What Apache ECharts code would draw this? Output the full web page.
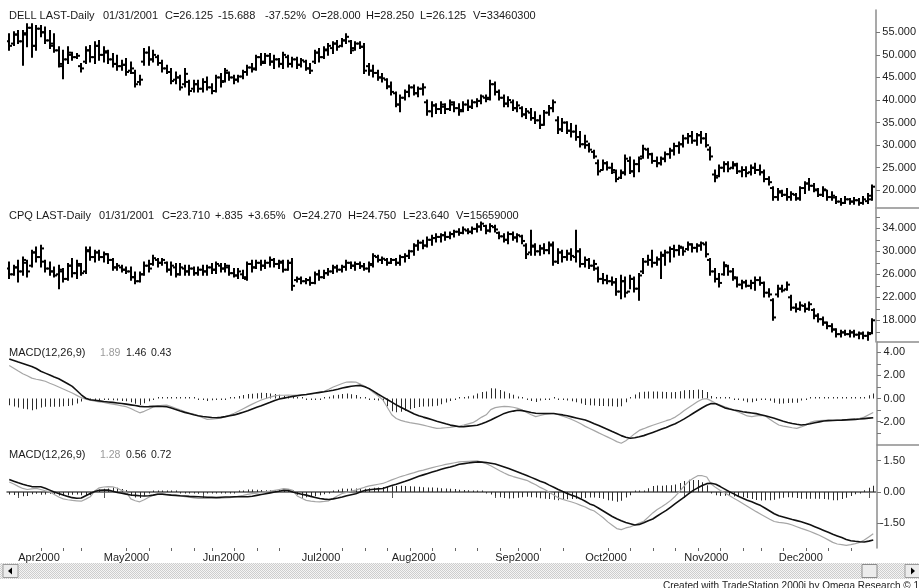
<!DOCTYPE html>
<html>
<head>
<meta charset="utf-8">
<script src="https://cdn.jsdelivr.net/npm/echarts@6/dist/echarts.min.js"></script>
<style>
html,body{margin:0;padding:0;background:#fff;}
#chart{width:919px;height:588px;}
</style>
</head>
<body>
<div id="chart"></div>
<script>
// ---- trading calendar ----
const firstDay = '2000-03-30';
const lastDay = '2001-01-03';
const holidays = ['2000-04-21','2000-05-29','2000-07-04','2000-09-04','2000-11-23','2000-12-25','2001-01-01'];
const monthLabels = ['Apr2000','May2000','Jun2000','Jul2000','Aug2000','Sep2000','Oct2000','Nov2000','Dec2000'];

// ---- DELL daily bars [open, high, low, close] ----
const dellOHLC = [
[53.0,54.7,51.0,52.0],[52.5,55.1,52.1,54.5],[54.5,55.4,52.5,53.0],[53.0,55.4,47.7,54.8],[54.5,56.9,51.8,56.0],
[56.0,56.9,49.5,52.0],[52.0,56.5,51.0,55.8],[55.8,56.5,54.0,55.0],[55.0,56.2,52.5,53.2],[53.2,55.4,51.4,52.0],
[52.5,54.7,50.6,51.0],[51.0,51.8,47.3,48.0],[47.5,51.0,44.7,49.0],[49.0,51.8,48.1,50.5],[50.0,50.6,48.8,49.5],
[49.5,50.3,49.2,49.8],[47.5,48.1,46.2,47.0],[48.5,51.8,48.1,51.0],[51.0,52.1,48.4,49.5],[49.5,52.9,48.1,52.0],
[52.0,53.2,48.8,50.0],[50.0,51.8,48.4,50.8],[50.5,51.0,48.1,49.0],[49.0,50.3,47.3,48.0],[48.0,49.9,46.6,47.5],
[47.5,48.8,46.6,47.8],[47.8,49.2,45.5,46.2],[46.5,48.4,45.9,47.0],[46.0,46.6,42.9,43.5],[44.0,45.5,43.3,44.5],
[48.5,51.4,47.7,50.5],[50.5,51.8,47.7,49.0],[49.0,51.0,48.4,50.0],[49.5,49.9,47.7,48.2],[48.2,48.8,46.2,47.0],
[47.0,47.7,45.9,46.2],[46.2,47.0,43.6,44.2],[44.5,46.2,43.6,45.0],[45.0,45.5,42.2,42.8],[43.5,47.0,42.9,45.8],
[44.0,44.4,41.1,42.0],[42.5,44.4,41.8,43.5],[43.5,44.4,41.8,42.5],[42.5,44.7,41.8,44.0],[44.0,45.1,42.2,42.8],
[42.8,43.6,41.4,42.0],[42.0,45.5,41.8,45.0],[45.0,45.9,42.9,44.0],[44.2,47.0,44.0,46.5],[46.0,46.2,44.4,45.0],
[45.0,45.5,43.6,44.5],[44.5,45.5,44.0,45.2],[45.2,46.6,44.7,46.2],[46.2,47.7,45.5,47.2],[47.2,48.1,46.2,46.8],
[47.0,49.9,46.6,49.5],[49.5,50.3,47.7,48.2],[48.5,50.3,48.1,49.8],[49.8,50.3,47.7,48.5],[48.5,49.9,47.0,49.0],
[49.0,49.2,47.3,48.0],[48.0,50.6,47.0,50.0],[49.5,49.9,47.3,48.0],[48.0,49.5,47.3,49.0],[49.0,49.5,47.0,47.8],
[47.8,49.2,47.3,48.8],[48.5,48.8,46.6,47.0],[47.0,48.1,45.9,46.5],[48.5,51.0,48.1,50.5],[50.5,51.4,48.4,49.5],
[49.5,51.8,49.2,51.2],[51.0,52.5,49.9,52.0],[51.5,52.9,50.3,52.5],[52.5,53.2,51.0,51.8],[52.0,53.6,51.8,53.2],
[53.2,54.7,52.5,54.0],[53.0,53.2,50.3,51.0],[51.5,52.9,51.0,52.5],[52.5,52.9,51.4,51.8],[51.8,52.5,45.9,46.5],
[47.5,48.1,45.5,46.5],[46.5,47.7,45.1,46.0],[46.0,46.6,44.4,45.0],[45.0,45.9,44.0,44.8],[44.5,44.7,42.5,43.0],
[43.0,44.0,41.1,41.8],[41.5,41.8,38.5,39.0],[39.0,41.1,37.4,40.5],[40.5,42.2,40.0,41.8],[41.8,43.3,40.7,42.8],
[42.8,43.3,41.1,41.5],[41.5,42.9,40.7,42.5],[42.5,43.6,41.1,42.8],[39.5,40.0,36.6,37.5],[37.5,39.6,36.3,38.8],
[38.8,39.2,37.0,38.0],[38.0,39.6,37.0,39.0],[38.5,39.2,37.0,38.0],[38.0,40.0,37.7,39.5],[39.0,39.6,37.4,38.2],
[38.2,39.2,36.6,37.5],[37.8,39.6,37.4,39.0],[39.0,40.0,37.7,38.5],[38.5,40.0,38.1,39.5],[39.5,40.3,38.5,39.8],
[39.8,41.1,39.2,40.8],[40.5,41.1,39.6,40.2],[40.5,44.4,40.0,43.5],[43.5,44.0,41.1,41.8],[41.8,42.2,40.0,40.5],
[40.5,41.1,38.5,39.2],[39.2,40.7,38.5,40.0],[39.5,40.0,37.7,38.2],[38.2,39.6,37.4,38.8],[38.2,38.5,36.3,36.8],
[36.8,38.1,35.9,37.5],[37.2,38.1,35.5,36.0],[36.0,37.4,34.8,35.5],[35.5,36.6,33.7,34.5],[34.5,37.7,34.4,37.2],
[37.2,38.8,36.6,38.2],[38.2,40.0,37.4,39.5],[35.5,36.3,32.6,33.5],[33.5,35.9,33.0,35.0],[35.0,35.2,32.6,33.2],
[33.2,34.8,31.8,33.0],[33.0,34.4,31.1,31.8],[31.8,33.0,29.6,30.2],[30.2,32.2,29.3,30.8],[30.0,30.4,28.5,29.0],
[28.5,28.9,27.1,27.5],[26.0,26.7,23.4,24.2],[24.5,26.7,24.5,26.0],[26.0,26.3,24.5,25.0],[25.0,26.0,23.7,24.5],
[24.0,24.5,21.9,22.5],[22.8,24.5,22.6,23.8],[24.0,27.8,23.4,27.0],[26.5,27.4,23.7,24.2],[24.2,26.7,23.0,25.8],
[25.8,27.4,24.1,27.0],[27.5,30.0,27.1,29.2],[29.0,29.3,27.1,28.0],[28.0,28.2,26.0,26.5],[26.5,27.4,25.2,26.0],
[26.0,27.4,25.6,27.0],[27.0,28.5,26.3,28.0],[28.0,29.3,27.1,28.8],[28.8,30.4,27.8,29.8],[29.8,30.7,28.2,30.2],
[30.2,32.2,29.6,31.5],[31.5,32.6,30.4,32.0],[32.0,33.0,30.4,31.0],[31.0,32.6,30.0,32.2],[32.2,33.0,30.4,31.5],
[31.5,32.6,29.6,30.0],[29.0,29.6,26.7,27.5],[23.5,24.5,21.9,22.8],[23.2,25.6,23.0,25.0],[25.0,26.3,24.1,25.8],
[25.8,26.3,24.1,24.8],[25.0,26.3,24.8,25.8],[25.5,26.0,23.7,24.2],[24.2,25.2,23.0,24.5],[24.5,25.2,23.0,23.8],
[24.0,25.6,23.4,25.0],[25.0,26.0,23.7,24.5],[24.5,25.6,23.4,24.0],[24.0,24.5,21.9,22.5],[22.5,23.0,21.2,21.8],
[20.5,20.8,17.8,18.5],[18.5,20.4,17.8,19.8],[19.5,20.0,18.6,19.0],[19.0,20.4,17.8,18.5],[18.5,19.7,17.8,19.2],
[19.0,19.3,17.8,18.2],[18.2,20.8,17.8,20.5],[20.5,21.9,19.3,21.5],[21.5,22.6,20.0,21.0],[21.0,21.5,19.7,20.2],
[20.0,20.4,18.6,19.0],[19.0,20.8,18.6,20.2],[20.0,20.0,17.8,18.5],[18.5,19.7,17.8,18.8],[18.4,18.6,17.1,17.5],
[17.5,18.2,16.7,17.2],[17.2,18.6,17.1,18.0],[18.0,18.2,16.9,17.5],[17.5,18.4,16.9,17.8],[17.8,18.2,16.7,17.2],
[17.2,18.6,16.9,18.0],[17.6,19.3,17.1,18.8],[18.0,21.2,17.8,20.8]
];

// ---- CPQ daily bars [open, high, low, close] ----
const cpqOHLC = [
[27.0,28.15,25.25,26.0],[26.0,27.57,25.83,27.2],[27.2,28.44,24.67,26.5],[26.5,29.02,25.83,28.5],[28.0,28.44,25.54,26.5],
[27.5,30.17,27.28,29.8],[29.8,30.75,28.15,29.0],[29.0,31.04,27.28,30.5],[28.2,28.44,26.41,27.0],[27.0,28.15,25.83,26.5],
[26.5,27.28,25.54,25.8],[26.0,27.57,23.51,26.8],[26.5,26.99,24.67,25.2],[25.2,27.86,24.96,27.5],[27.5,28.73,25.54,26.2],
[26.2,28.44,25.25,27.8],[27.5,27.86,25.83,26.2],[26.5,30.75,26.12,30.2],[30.0,30.75,28.44,29.0],[29.0,30.17,28.15,29.8],
[29.8,30.17,28.44,29.0],[29.0,29.88,28.15,29.5],[29.5,29.59,27.86,28.5],[28.5,28.73,26.70,27.2],[27.2,27.86,26.70,27.5],
[27.2,27.57,26.41,26.8],[26.8,27.28,26.12,26.5],[26.5,27.28,24.96,25.5],[25.5,26.41,24.38,24.8],[24.8,26.41,24.67,26.0],
[26.0,28.15,25.83,27.5],[27.5,28.44,26.41,27.0],[27.8,29.30,27.57,28.8],[28.5,28.73,27.28,28.0],[28.0,28.73,27.57,28.5],
[28.0,28.15,26.41,26.8],[26.8,28.15,25.83,27.5],[27.2,27.86,25.54,26.0],[26.0,27.86,25.83,27.2],[27.0,27.57,25.83,26.5],
[26.5,27.57,25.83,27.0],[27.0,27.28,25.83,26.2],[26.2,27.28,25.83,26.8],[26.8,27.57,25.83,26.5],[26.5,27.57,25.83,27.2],
[27.2,27.86,26.12,26.8],[26.8,28.15,26.12,27.8],[27.5,27.86,26.41,27.0],[27.0,27.86,26.41,27.5],[27.2,27.57,25.83,26.2],
[26.2,26.99,25.54,25.8],[25.8,26.99,25.25,26.5],[26.0,26.70,25.25,25.5],[25.2,28.15,24.96,27.8],[27.8,28.44,26.41,27.2],
[27.2,28.44,26.99,28.0],[28.0,28.44,26.70,27.5],[27.5,28.44,26.99,28.0],[28.0,29.02,27.28,28.5],[28.5,28.73,27.28,27.8],
[27.8,28.44,26.99,28.2],[28.0,28.44,26.41,26.8],[26.8,28.44,26.70,28.0],[28.0,28.73,23.22,24.0],[25.0,25.54,24.67,25.2],
[25.2,25.54,24.38,24.8],[24.8,25.25,24.38,25.0],[25.0,25.54,24.09,24.5],[24.5,26.41,24.38,26.0],[26.0,26.70,24.96,25.5],
[25.5,26.70,25.25,26.2],[26.2,26.99,25.83,26.5],[26.5,27.57,26.12,27.2],[27.2,27.57,26.41,26.8],[26.8,27.57,26.41,27.3],
[27.3,28.44,26.70,28.0],[28.0,28.15,26.99,27.5],[27.5,28.15,26.70,27.8],[27.8,28.15,26.99,27.4],[27.4,27.86,26.70,27.0],
[27.0,28.15,26.41,27.6],[27.8,29.59,27.28,29.2],[29.0,29.30,28.15,28.5],[28.5,29.02,27.86,28.7],[28.5,28.73,27.57,28.0],
[28.0,28.73,27.86,28.5],[28.5,28.73,27.57,28.0],[28.0,29.30,27.57,29.0],[29.0,29.59,28.15,29.2],[29.2,30.17,28.73,30.0],
[30.0,31.33,29.30,31.0],[31.0,31.91,30.17,31.5],[31.5,31.91,30.46,31.0],[31.0,32.49,30.75,32.0],[32.0,32.78,31.04,32.3],
[32.3,33.07,31.62,32.5],[32.5,33.07,31.62,32.8],[32.8,33.36,31.91,32.5],[32.5,33.36,32.20,33.0],[33.0,33.65,32.49,33.4],
[33.4,33.94,32.78,33.2],[33.2,34.23,33.07,33.8],[33.6,33.94,33.07,33.4],[33.4,34.23,33.07,33.9],[33.9,34.81,33.36,34.3],
[34.3,35.10,33.65,34.8],[34.4,34.52,33.07,33.6],[33.6,34.81,33.36,34.4],[34.2,34.52,33.36,33.8],[33.2,33.36,32.20,32.6],
[32.6,33.07,31.62,32.0],[32.0,33.36,31.33,33.0],[33.0,33.36,31.91,32.4],[32.4,33.07,31.62,32.8],[32.6,32.78,31.33,31.8],
[31.0,31.33,28.73,29.5],[29.8,33.65,29.30,31.0],[30.8,31.33,29.30,30.0],[30.0,31.04,29.30,30.5],[30.5,31.33,29.59,30.2],
[30.2,31.62,29.59,31.2],[31.0,31.62,27.57,28.2],[28.2,30.46,27.86,29.8],[29.8,30.17,28.15,29.0],[29.0,30.17,28.44,29.6],
[29.6,30.46,28.44,29.2],[29.0,33.65,28.15,30.0],[30.0,30.46,27.28,27.8],[27.8,29.02,27.28,28.5],[28.5,28.73,26.99,27.5],
[27.5,28.44,26.70,27.8],[27.0,27.28,24.67,25.2],[25.2,26.12,24.38,25.0],[25.0,25.83,24.38,24.8],[24.8,25.54,24.09,24.6],
[24.6,25.25,22.35,23.0],[23.0,25.83,21.77,24.8],[24.8,25.54,22.06,22.8],[23.0,25.83,23.51,25.2],[25.2,25.54,22.93,23.5],
[23.5,26.12,21.48,25.8],[26.5,28.73,26.12,28.2],[28.2,29.30,27.57,28.5],[28.5,30.17,27.28,28.0],[28.0,29.02,27.57,28.6],
[28.6,29.88,25.25,29.4],[29.2,30.17,27.57,29.8],[29.8,30.75,28.15,30.4],[30.4,31.04,29.02,30.2],[30.2,31.04,29.30,30.8],
[30.6,30.75,29.30,30.0],[30.4,31.62,30.17,31.2],[31.2,31.33,29.88,30.6],[30.6,31.33,29.88,31.0],[31.0,31.62,30.17,31.4],
[31.2,31.62,29.02,29.5],[28.5,28.73,25.83,26.5],[26.5,26.99,24.67,25.2],[25.2,26.12,23.80,24.5],[26.0,28.15,25.83,27.6],
[27.4,27.57,25.83,26.5],[26.5,26.99,24.96,25.5],[25.3,25.54,23.80,24.2],[24.2,24.96,23.51,24.6],[24.6,24.96,23.80,24.0],
[24.0,24.96,23.51,24.5],[24.5,25.54,23.22,25.0],[25.0,25.54,24.09,24.5],[24.5,24.67,22.06,22.8],[22.8,23.51,22.06,22.5],
[21.5,21.77,18.00,18.5],[22.5,24.09,22.06,23.5],[23.5,24.09,22.93,23.2],[23.4,24.67,23.22,24.2],[22.0,22.35,19.74,20.2],
[20.2,20.90,19.45,20.0],[20.0,21.19,19.74,20.6],[20.5,20.90,19.45,20.0],[20.0,21.19,19.74,20.8],[19.8,20.03,18.29,18.8],
[18.8,19.16,17.71,18.2],[18.2,18.58,17.13,17.6],[17.6,17.71,16.55,17.0],[17.0,17.42,15.97,16.4],[16.4,16.55,15.10,15.6],
[15.6,16.26,15.10,15.9],[15.9,16.26,15.39,15.6],[15.6,16.26,15.10,15.9],[15.9,16.26,15.10,15.5],[15.5,15.97,14.81,15.7],
[15.7,15.97,14.81,15.3],[15.3,15.97,14.52,15.6],[15.8,18.29,15.68,18.0]
];

// ---- MACD(12,26,9) for DELL: MACD line and its average ----
const dellMacd = [
2.86,2.62,2.38,2.15,1.97,1.77,1.67,1.60,1.50,1.33,
1.17,1.00,0.83,0.65,0.48,0.28,0.08,-0.05,-0.14,-0.22,
-0.28,-0.34,-0.41,-0.48,-0.55,-0.63,-0.70,-0.86,-1.05,-1.23,
-1.10,-0.92,-0.72,-0.63,-0.59,-0.57,-0.70,-0.83,-0.98,-1.12,
-1.25,-1.34,-1.50,-1.66,-1.80,-1.77,-1.74,-1.70,-1.57,-1.42,
-1.27,-1.07,-0.87,-0.67,-0.48,-0.29,-0.12,0.01,0.13,0.24,
0.29,0.29,0.30,0.29,0.31,0.33,0.35,0.38,0.44,0.52,
0.63,0.81,1.00,1.15,1.30,1.43,1.44,1.43,1.25,1.06,
0.80,0.50,0.22,-0.10,-0.75,-1.40,-1.72,-1.88,-1.99,-2.07,
-2.14,-2.21,-2.29,-2.39,-2.49,-2.57,-2.55,-2.52,-2.49,-2.43,
-2.37,-2.28,-2.18,-2.08,-1.86,-1.60,-1.40,-0.95,-0.78,-0.72,
-0.67,-0.69,-0.75,-0.84,-1.00,-1.20,-1.40,-1.56,-1.46,-1.37,
-1.32,-1.29,-1.40,-1.52,-1.66,-1.80,-1.98,-2.18,-2.40,-2.58,
-2.77,-2.96,-3.14,-3.33,-3.52,-3.72,-3.86,-3.65,-3.35,-3.03,
-2.75,-2.60,-2.44,-2.30,-2.17,-2.04,-1.91,-1.79,-1.60,-1.33,
-1.03,-0.77,-0.52,-0.25,-0.05,0.00,-0.20,-0.40,-0.55,-0.70,
-0.85,-1.00,-1.16,-1.32,-1.50,-1.55,-1.50,-1.45,-1.50,-1.78,
-2.05,-2.28,-2.38,-2.45,-2.52,-2.57,-2.45,-2.30,-2.06,-1.95,
-1.90,-1.87,-1.86,-1.86,-1.86,-1.86,-1.82,-1.78,-1.74,-1.71,
-1.60,-1.40,-1.20
];
const dellSignal = [
3.43,3.30,3.16,3.03,2.90,2.77,2.60,2.36,2.20,2.04,
1.87,1.71,1.50,1.28,1.06,0.70,0.33,0.03,-0.10,-0.15,
-0.20,-0.25,-0.29,-0.33,-0.38,-0.43,-0.48,-0.54,-0.60,-0.67,
-0.70,-0.69,-0.67,-0.66,-0.68,-0.71,-0.82,-0.94,-1.08,-1.19,
-1.29,-1.39,-1.48,-1.55,-1.59,-1.63,-1.66,-1.62,-1.56,-1.48,
-1.41,-1.30,-1.18,-1.06,-0.90,-0.75,-0.62,-0.47,-0.32,-0.16,
-0.04,0.04,0.12,0.19,0.25,0.31,0.36,0.42,0.48,0.54,
0.59,0.65,0.72,0.81,0.91,0.99,1.07,1.11,1.14,1.03,
0.86,0.62,0.38,0.15,-0.08,-0.31,-0.54,-0.75,-0.94,-1.14,
-1.33,-1.48,-1.60,-1.71,-1.83,-1.95,-2.06,-2.18,-2.29,-2.36,
-2.43,-2.42,-2.38,-2.34,-2.30,-2.18,-2.02,-1.85,-1.66,-1.47,
-1.28,-1.16,-1.08,-1.01,-1.04,-1.12,-1.20,-1.27,-1.29,-1.29,
-1.29,-1.29,-1.35,-1.41,-1.49,-1.58,-1.67,-1.76,-1.85,-2.00,
-2.17,-2.33,-2.50,-2.67,-2.85,-3.02,-3.20,-3.34,-3.43,-3.38,
-3.30,-3.20,-3.06,-2.92,-2.78,-2.63,-2.49,-2.33,-2.17,-1.97,
-1.75,-1.52,-1.27,-1.03,-0.79,-0.57,-0.42,-0.45,-0.62,-0.80,
-0.90,-0.98,-1.05,-1.13,-1.19,-1.24,-1.30,-1.39,-1.49,-1.59,
-1.70,-1.83,-1.96,-2.07,-2.15,-2.22,-2.28,-2.24,-2.17,-2.09,
-2.01,-1.93,-1.90,-1.89,-1.87,-1.86,-1.84,-1.82,-1.80,-1.77,
-1.73,-1.69,-1.65
];

// ---- MACD(12,26,9) for CPQ ----
const cpqMacd = [
0.48,0.38,0.27,0.17,0.12,0.15,0.17,0.12,0.06,0.01,
-0.12,-0.24,-0.33,-0.37,-0.40,-0.42,-0.44,-0.34,-0.23,0.05,
0.20,0.24,0.26,0.25,0.18,0.08,0.00,-0.33,-0.42,-0.47,
-0.37,-0.25,-0.15,-0.09,-0.08,-0.11,-0.14,-0.16,-0.19,-0.22,
-0.25,-0.28,-0.31,-0.31,-0.31,-0.31,-0.31,-0.30,-0.28,-0.27,
-0.25,-0.20,-0.16,-0.11,-0.08,-0.05,-0.02,0.01,0.04,0.08,
0.12,0.16,0.14,0.08,-0.19,-0.30,-0.40,-0.44,-0.46,-0.47,
-0.45,-0.42,-0.30,-0.18,-0.07,-0.02,0.04,0.09,0.16,0.23,
0.29,0.33,0.37,0.41,0.49,0.58,0.66,0.74,0.80,0.87,
0.93,1.00,1.05,1.11,1.17,1.22,1.27,1.32,1.36,1.40,
1.44,1.46,1.47,1.48,1.49,1.43,1.36,1.26,1.14,1.02,
0.91,0.81,0.74,0.68,0.62,0.56,0.45,0.35,0.22,0.12,
-0.01,-0.14,-0.28,-0.35,-0.42,-0.48,-0.55,-0.64,-0.72,-0.83,
-0.91,-1.07,-1.23,-1.43,-1.59,-1.75,-1.80,-1.72,-1.67,-1.58,
-1.49,-1.40,-1.20,-1.00,-0.84,-0.71,-0.56,-0.40,-0.20,0.03,
0.29,0.51,0.66,0.78,0.78,0.72,0.38,0.21,0.07,-0.04,
-0.17,-0.30,-0.42,-0.55,-0.68,-0.81,-0.94,-1.06,-1.18,-1.30,
-1.41,-1.45,-1.48,-1.51,-1.58,-1.66,-1.74,-1.81,-1.89,-1.98,
-2.07,-2.18,-2.29,-2.41,-2.49,-2.52,-2.55,-2.52,-2.47,-2.41,
-2.30,-2.15,-2.00
];
const cpqSignal = [
0.60,0.52,0.44,0.37,0.31,0.26,0.25,0.25,0.18,0.09,
0.00,-0.07,-0.14,-0.21,-0.27,-0.30,-0.29,-0.18,-0.07,0.02,
0.08,0.09,0.09,0.04,-0.02,-0.06,-0.10,-0.14,-0.16,-0.18,
-0.19,-0.18,-0.15,-0.11,-0.11,-0.13,-0.15,-0.16,-0.18,-0.19,
-0.21,-0.22,-0.23,-0.24,-0.25,-0.25,-0.26,-0.25,-0.24,-0.24,
-0.23,-0.23,-0.23,-0.23,-0.20,-0.16,-0.12,-0.08,-0.04,0.00,
0.04,0.08,0.07,0.00,-0.06,-0.11,-0.15,-0.21,-0.26,-0.31,
-0.34,-0.36,-0.33,-0.29,-0.24,-0.18,-0.13,-0.08,0.00,0.07,
0.11,0.13,0.15,0.17,0.24,0.31,0.37,0.44,0.51,0.59,
0.67,0.75,0.82,0.89,0.96,1.02,1.09,1.15,1.20,1.26,
1.33,1.36,1.39,1.42,1.44,1.43,1.41,1.38,1.34,1.27,
1.20,1.12,1.04,0.96,0.87,0.79,0.70,0.61,0.52,0.44,
0.33,0.23,0.12,0.02,-0.07,-0.15,-0.23,-0.33,-0.44,-0.57,
-0.65,-0.78,-0.91,-1.04,-1.17,-1.28,-1.38,-1.46,-1.52,-1.58,
-1.55,-1.47,-1.38,-1.29,-1.15,-1.01,-0.88,-0.72,-0.56,-0.40,
-0.24,-0.08,0.08,0.20,0.31,0.40,0.42,0.37,0.26,0.14,
0.02,-0.09,-0.20,-0.30,-0.39,-0.47,-0.56,-0.65,-0.78,-0.91,
-1.04,-1.14,-1.20,-1.26,-1.32,-1.37,-1.42,-1.49,-1.57,-1.66,
-1.75,-1.84,-1.93,-2.02,-2.10,-2.18,-2.27,-2.33,-2.36,-2.38,
-2.39,-2.35,-2.30
];

// ---- axis tick values ----
const dellTicks = [20,25,30,35,40,45,50,55];
const cpqLabels = [18,22,26,30,34];
const cpqTicks = [16,18,20,22,24,26,28,30,32,34,36];
const macd1Labels = [-2,0,2,4];
const macd1Ticks = [-3,-2,-1,0,1,2,3,4];
const macd2Labels = [-1.5,0,1.5];

// ---- header texts ----
const dellHeader = [['DELL LAST-Daily',9],['01/31/2001',103],['C=26.125',165],['-15.688',218],['-37.52%',265],['O=28.000',312],['H=28.250',366],['L=26.125',420],['V=33460300',473]];
const cpqHeader = [['CPQ LAST-Daily',9],['01/31/2001',99],['C=23.710',162],['+.835',215],['+3.65%',248],['O=24.270',293],['H=24.750',348],['L=23.640',403],['V=15659000',456]];
const macdHeader1 = ['MACD(12,26,9)','1.89','1.46','0.43'];
const macdHeader2 = ['MACD(12,26,9)','1.28','0.56','0.72'];

// ---- build calendar ----
function pad(n){return (n<10?'0':'')+n;}
function iso(d){return d.getUTCFullYear()+'-'+pad(d.getUTCMonth()+1)+'-'+pad(d.getUTCDate());}
const dates = [];
(function(){
  const hol = new Set(holidays);
  const d = new Date(firstDay+'T00:00:00Z');
  const end = new Date(lastDay+'T00:00:00Z');
  while (d <= end) {
    const wd = d.getUTCDay();
    const s = iso(d);
    if (wd !== 0 && wd !== 6 && !hol.has(s)) dates.push(s);
    d.setUTCDate(d.getUTCDate()+1);
  }
})();
const monthStart = new Set();
const weekStart = new Set();
const labelAt = new Map();
let mIdx = 0;
for (let i = 1; i < dates.length; i++) {
  const a = new Date(dates[i-1]+'T00:00:00Z'), b = new Date(dates[i]+'T00:00:00Z');
  if (a.getUTCMonth() !== b.getUTCMonth()) {
    monthStart.add(i);
    if (mIdx < monthLabels.length) labelAt.set(i, monthLabels[mIdx]);
    mIdx++;
  } else if (b.getUTCDay() < a.getUTCDay()) {
    weekStart.add(i);
  }
}
const dellDiff = dellMacd.map((v,i)=>+(v-dellSignal[i]).toFixed(2));
const cpqDiff = cpqMacd.map((v,i)=>+(v-cpqSignal[i]).toFixed(2));

// ---- drawing helpers ----
const FONT = '"Liberation Sans", Arial, sans-serif';
const AXIS_GRAY = '#8c8c8c';

function ohlcItem(params, api) {
  const i = api.value(0);
  const top = api.coord([i, api.value(2)]);
  const bot = api.coord([i, api.value(3)]);
  const yo = api.coord([i, api.value(1)])[1];
  const yc = api.coord([i, api.value(4)])[1];
  const cx = Math.round(top[0]);
  const st = {stroke:'#000', lineWidth:2};
  return {type:'group', children:[
    {type:'line', shape:{x1:cx, y1:top[1]-0.5, x2:cx, y2:bot[1]+0.5}, style:st},
    {type:'line', shape:{x1:cx-3, y1:yo, x2:cx, y2:yo}, style:st},
    {type:'line', shape:{x1:cx, y1:yc, x2:cx+3, y2:yc}, style:st}
  ]};
}
function histItem(params, api) {
  const i = api.value(0), v = api.value(1);
  const p0 = api.coord([i, 0]), p1 = api.coord([i, v]);
  let y0 = p0[1], y1 = p1[1];
  if (Math.abs(y1 - y0) < 1.5) y1 = y0 + (v >= 0 ? -1.5 : 1.5);
  return {type:'rect', shape:{x:Math.round(p0[0]), y:Math.min(y0,y1), width:1, height:Math.abs(y1-y0)},
          style:{fill:'#2a2a2a'}};
}

const gridL = 7, gridW = 868.5;
const grids = [
  {left:gridL, width:gridW, top:10, height:198},
  {left:gridL, width:gridW, top:208, height:134},
  {left:gridL, width:gridW, top:342, height:103},
  {left:gridL, width:gridW, top:445, height:103}
];

function hiddenX(g){
  return {type:'category', gridIndex:g, data:dates, boundaryGap:true, show:false};
}
function priceY(g, min, max, labels, ticks, digits, margin){
  return {
    type:'value', gridIndex:g, position:'right', offset:1.5, min:min, max:max, scale:true,
    splitLine:{show:false},
    axisLine:{show:true, lineStyle:{color:AXIS_GRAY, width:1.5}},
    axisTick:{show:true, length:4, customValues:ticks, lineStyle:{color:'#777'}},
    axisLabel:{show:true, customValues:labels, align:'right', margin:margin,
      fontSize:11, fontFamily:FONT, color:'#222',
      formatter:(v)=>Number(v).toFixed(digits)}
  };
}

const option = {
  animation:false,
  backgroundColor:'#ffffff',
  grid:grids,
  xAxis:[
    hiddenX(0), hiddenX(1), hiddenX(2),
    {type:'category', gridIndex:3, data:dates, boundaryGap:true, position:'bottom',
      axisLine:{show:true, lineStyle:{color:'#555', width:1.5}},
      axisTick:{show:true, alignWithLabel:true, interval:(i)=>monthStart.has(i), length:6, lineStyle:{color:'#555'}},
      axisLabel:{show:true, interval:(i)=>labelAt.has(i), formatter:(v,i)=>labelAt.get(i)||'',
        align:'left', margin:4, fontSize:11, fontFamily:FONT, color:'#222', hideOverlap:false},
      splitLine:{show:false}},
    {type:'category', gridIndex:3, data:dates, boundaryGap:true, position:'bottom',
      axisLine:{show:false},
      axisTick:{show:true, alignWithLabel:true, interval:(i)=>weekStart.has(i), length:3, lineStyle:{color:'#666'}},
      axisLabel:{show:false}, splitLine:{show:false}}
  ],
  yAxis:[
    priceY(0, 16.08, 59.94, dellTicks, dellTicks, 3, 40),
    priceY(1, 14.23, 37.53, cpqLabels, cpqTicks, 3, 40),
    priceY(2, -4.01, 4.89, macd1Labels, macd1Ticks, 2, 28),
    priceY(3, -2.68, 2.25, macd2Labels, macd2Labels, 2, 28)
  ],
  series:[
    {type:'custom', name:'DELL', xAxisIndex:0, yAxisIndex:0, renderItem:ohlcItem,
      encode:{x:0, y:[1,2,3,4]}, data:dellOHLC.map((r,i)=>[i].concat(r)), clip:true},
    {type:'custom', name:'CPQ', xAxisIndex:1, yAxisIndex:1, renderItem:ohlcItem,
      encode:{x:0, y:[1,2,3,4]}, data:cpqOHLC.map((r,i)=>[i].concat(r)), clip:true},
    {type:'custom', name:'DELL MACDDiff', xAxisIndex:2, yAxisIndex:2, renderItem:histItem,
      encode:{x:0, y:1}, data:dellDiff.map((v,i)=>[i,v]), z:1},
    {type:'line', name:'DELL MACD', xAxisIndex:2, yAxisIndex:2, data:dellMacd, showSymbol:false,
      lineStyle:{color:'#a6a6a6', width:1.2}, z:2},
    {type:'line', name:'DELL MACDAvg', xAxisIndex:2, yAxisIndex:2, data:dellSignal, showSymbol:false,
      lineStyle:{color:'#111', width:1.6}, z:3},
    {type:'custom', name:'CPQ MACDDiff', xAxisIndex:3, yAxisIndex:3, renderItem:histItem,
      encode:{x:0, y:1}, data:cpqDiff.map((v,i)=>[i,v]), z:1},
    {type:'line', name:'CPQ MACD', xAxisIndex:3, yAxisIndex:3, data:cpqMacd, showSymbol:false,
      lineStyle:{color:'#a6a6a6', width:1.2}, z:2},
    {type:'line', name:'CPQ MACDAvg', xAxisIndex:3, yAxisIndex:3, data:cpqSignal, showSymbol:false,
      lineStyle:{color:'#111', width:1.6}, z:3}
  ],
  graphic:[]
};

// ---- headers, pane separators, scrollbar, footer ----
const g = option.graphic;
function txt(s, x, y, color, size){
  g.push({type:'text', silent:true, z:10, style:{text:s, x:x, y:y, fill:color||'#1a1a1a',
    font:(size||11)+'px '+FONT, verticalAlign:'middle'}});
}
dellHeader.forEach(([s,x])=>txt(s,x,16));
cpqHeader.forEach(([s,x])=>txt(s,x,215.5));
const macdX = [9,100,126,151];
const macdCol = ['#1a1a1a','#9a9a9a','#1a1a1a','#1a1a1a'];
macdHeader1.forEach((s,k)=>txt(s,macdX[k],353,macdCol[k],k?10.5:11));
macdHeader2.forEach((s,k)=>txt(s,macdX[k],455,macdCol[k],k?10.5:11));

[208,342,445].forEach(y=>g.push({type:'line', silent:true, z:10,
  shape:{x1:877, y1:y, x2:919, y2:y}, style:{stroke:AXIS_GRAY, lineWidth:1.5}}));

const pat = document.createElement('canvas');
pat.width = 2; pat.height = 2;
(function(){
  const c = pat.getContext('2d');
  c.fillStyle = '#f4f4f4'; c.fillRect(0,0,2,2);
  c.fillStyle = '#cdcdcd'; c.fillRect(0,0,1,1); c.fillRect(1,1,1,1);
})();
g.push({type:'rect', silent:true, z:5, shape:{x:0, y:563, width:919, height:16}, style:{fill:{image:pat, repeat:'repeat'}}});
// left button
g.push({type:'rect', silent:true, z:6, shape:{x:3, y:564.5, width:15, height:13}, style:{fill:'#ececec', stroke:'#9a9a9a', lineWidth:1}});
g.push({type:'polygon', silent:true, z:7, shape:{points:[[8,571],[12,567.5],[12,574.5]]}, style:{fill:'#000'}});
// thumb
g.push({type:'rect', silent:true, z:6, shape:{x:862, y:564.5, width:15, height:13}, style:{fill:'#ececec', stroke:'#8a8a8a', lineWidth:1}});
// right button
g.push({type:'rect', silent:true, z:6, shape:{x:905, y:564.5, width:15, height:13}, style:{fill:'#ececec', stroke:'#9a9a9a', lineWidth:1}});
g.push({type:'polygon', silent:true, z:7, shape:{points:[[911,567.5],[915,571],[911,574.5]]}, style:{fill:'#000'}});
// footer
g.push({type:'text', silent:true, z:10, style:{text:'Created with TradeStation 2000i by Omega Research \u00A9 1999',
  x:663, y:581, fill:'#222', font:'10px '+FONT, verticalAlign:'top'}});

const chart = echarts.init(document.getElementById('chart'), null, {renderer:'canvas'});
chart.setOption(option);
</script>
</body>
</html>
